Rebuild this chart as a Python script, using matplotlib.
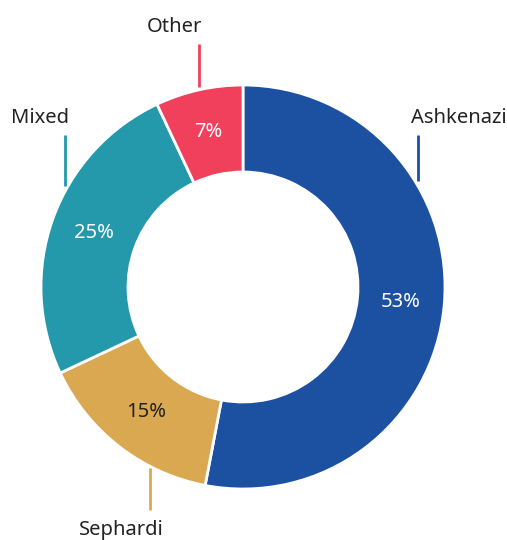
import matplotlib.pyplot as plt

# Data
labels = ['Ashkenazi', 'Sephardi', 'Mixed', 'Other']
shares = [53, 15, 25, 7]
colors = ['#1c51a1', '#dba852', '#2499ab', '#f0405b']
pct_colors = ['white', '#222222', 'white', 'white']

plt.rcParams['font.family'] = ['Noto Sans', 'DejaVu Sans']
FS = 14.5

W, H = 507, 540
fig = plt.figure(figsize=(W / 100, H / 100), dpi=100)
ax = fig.add_axes([0, 0, 1, 1])

cx, cy = 243, H - 287
R = 202
ring = 87

wedges, texts, autotexts = ax.pie(
    shares, center=(cx, cy), radius=R, colors=colors,
    startangle=90, counterclock=False,
    autopct=lambda p: '%d%%' % round(p), pctdistance=(R - ring / 2) / R,
    wedgeprops=dict(width=ring, edgecolor='white', linewidth=2),
    textprops=dict(fontsize=FS, fontweight='light'), frame=True)
ax.set_xlim(0, W)
ax.set_ylim(0, H)
ax.set_aspect('equal')
ax.axis('off')

for t, c in zip(autotexts, pct_colors):
    t.set_color(c)

# leader lines and labels (pixel layout)
leaders = {
    'Ashkenazi': ((418, 135, 181), (411, 118, 'left')),
    'Sephardi': ((150, 468, 510), (121, 530, 'center')),
    'Mixed': ((65, 135, 186), (40, 118, 'center')),
    'Other': ((199, 44, 87), (174, 27, 'center')),
}
for lab, col in zip(labels, colors):
    (lx, y0, y1), (tx, ty, ha) = leaders[lab]
    ax.plot([lx, lx], [H - y0, H - y1], color=col, lw=2, solid_capstyle='butt')
    ax.text(tx, H - ty, lab, ha=ha, va='center', fontsize=FS,
            fontweight='light', color='#222222')

fig.savefig('out.png', dpi=100)
